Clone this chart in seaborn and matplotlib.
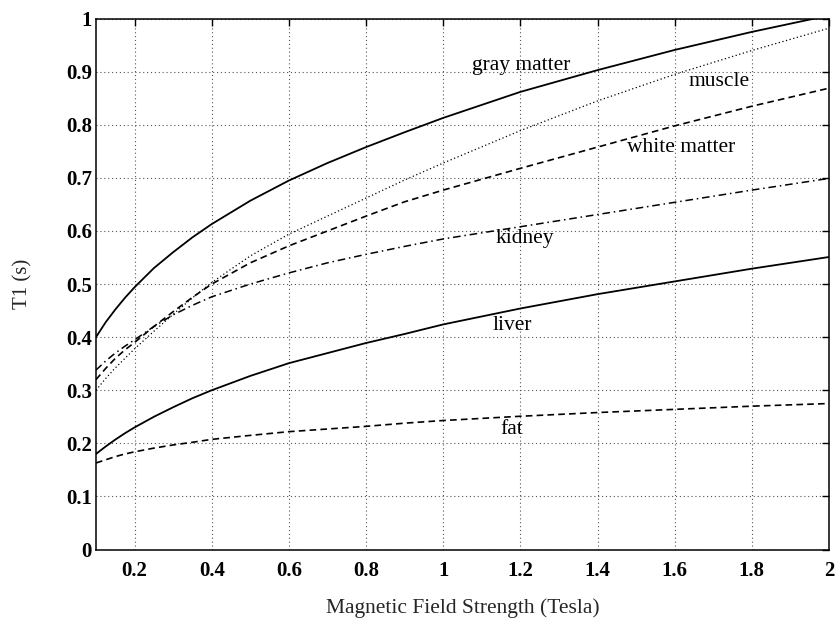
import matplotlib
matplotlib.use("Agg")
import matplotlib.pyplot as plt
import seaborn as sns
import pandas as pd

# Field strength (Tesla)
field = [0.1, 0.125, 0.15, 0.175, 0.2, 0.25, 0.3, 0.35, 0.4, 0.5, 0.6, 0.7, 0.8, 0.9,
         1.0, 1.2, 1.4, 1.6, 1.8, 2.0]

# T1 values (s)
gray_matter = [0.400, 0.428, 0.452, 0.474, 0.494, 0.530, 0.560, 0.588, 0.613, 0.657, 0.695, 0.728,
               0.758, 0.786, 0.813, 0.862, 0.903, 0.941, 0.975, 1.006]
muscle = [0.300, 0.322, 0.342, 0.360, 0.378, 0.411, 0.443, 0.474, 0.503, 0.553, 0.594, 0.628,
          0.662, 0.696, 0.728, 0.789, 0.845, 0.895, 0.940, 0.982]
white_matter = [0.320, 0.341, 0.360, 0.376, 0.390, 0.420, 0.448, 0.475, 0.500, 0.540, 0.572, 0.600,
                0.628, 0.655, 0.677, 0.718, 0.758, 0.798, 0.835, 0.869]
kidney = [0.338, 0.355, 0.370, 0.383, 0.395, 0.420, 0.442, 0.460, 0.476, 0.500, 0.521, 0.540,
          0.556, 0.571, 0.585, 0.608, 0.631, 0.654, 0.677, 0.699]
liver = [0.180, 0.194, 0.207, 0.219, 0.230, 0.250, 0.268, 0.285, 0.300, 0.327, 0.351, 0.370,
         0.389, 0.406, 0.424, 0.454, 0.481, 0.505, 0.529, 0.551]
fat = [0.163, 0.169, 0.175, 0.180, 0.184, 0.191, 0.197, 0.202, 0.2075, 0.215, 0.222, 0.227,
       0.232, 0.238, 0.243, 0.251, 0.258, 0.264, 0.270, 0.275]

series_names = ["gray matter", "muscle", "white matter", "kidney", "liver", "fat"]
series_values = [gray_matter, muscle, white_matter, kidney, liver, fat]

x_ticks = [0.2, 0.4, 0.6, 0.8, 1.0, 1.2, 1.4, 1.6, 1.8, 2.0]
x_tick_labels = ["0.2", "0.4", "0.6", "0.8", "1", "1.2", "1.4", "1.6", "1.8", "2"]
y_ticks = [0, 0.1, 0.2, 0.3, 0.4, 0.5, 0.6, 0.7, 0.8, 0.9, 1.0]
y_tick_labels = ["0", "0.1", "0.2", "0.3", "0.4", "0.5", "0.6", "0.7", "0.8", "0.9", "1"]

# label anchor positions (data coords)
label_x = [1.203, 1.715, 1.616, 1.212, 1.180, 1.178]
label_y = [0.912, 0.882, 0.758, 0.585, 0.4225, 0.226]

styles = {
    "gray matter": dict(linestyle="-", linewidth=1.3),
    "muscle": dict(linestyle=(0, (1, 2)), linewidth=0.9),
    "white matter": dict(linestyle=(0, (4, 2.5)), linewidth=1.2),
    "kidney": dict(linestyle=(0, (5, 2.5, 1, 2.5)), linewidth=1.1),
    "liver": dict(linestyle="-", linewidth=1.3),
    "fat": dict(linestyle=(0, (4, 2.5)), linewidth=1.2),
}

sns.set_style("white")
plt.rcParams["font.family"] = ["Liberation Serif", "DejaVu Serif"]

fig = plt.figure(figsize=(8.36, 6.21), dpi=100)
ax = fig.add_axes([0.1148, 0.1151, 0.8768, 0.8549])

rows = []
for name, vals in zip(series_names, series_values):
    for xv, yv in zip(field, vals):
        rows.append({"field": xv, "T1": yv, "tissue": name})
df = pd.DataFrame(rows)

for name in series_names:
    sub = df[df["tissue"] == name]
    sns.lineplot(data=sub, x="field", y="T1", ax=ax, color="black",
                 estimator=None, sort=True, **styles[name])

for name, xv, yv in zip(series_names, label_x, label_y):
    ax.text(xv, yv, name, ha="center", va="center", fontsize=15.5, color="black")

ax.set_xlim(0.1, 2.0)
ax.set_ylim(0, 1)
ax.set_xticks(x_ticks)
ax.set_xticklabels(x_tick_labels, fontsize=15, fontweight="bold")
ax.set_yticks(y_ticks)
ax.set_yticklabels(y_tick_labels, fontsize=15, fontweight="bold")
ax.tick_params(axis="both", direction="in", length=5, width=1, top=True, right=True,
               colors="black")
ax.tick_params(axis="x", pad=8)
ax.tick_params(axis="y", pad=3)
ax.grid(True, color="#555555", linestyle=(0, (1, 2.5)), linewidth=0.8)
for sp in ax.spines.values():
    sp.set_visible(True)
    sp.set_color("black")
    sp.set_linewidth(1.1)

ax.set_xlabel("Magnetic Field Strength (Tesla)", fontsize=15.5, labelpad=13)
ax.set_ylabel("T1 (s)", fontsize=15, labelpad=24)

fig.savefig("out.png", dpi=100, facecolor="white")
